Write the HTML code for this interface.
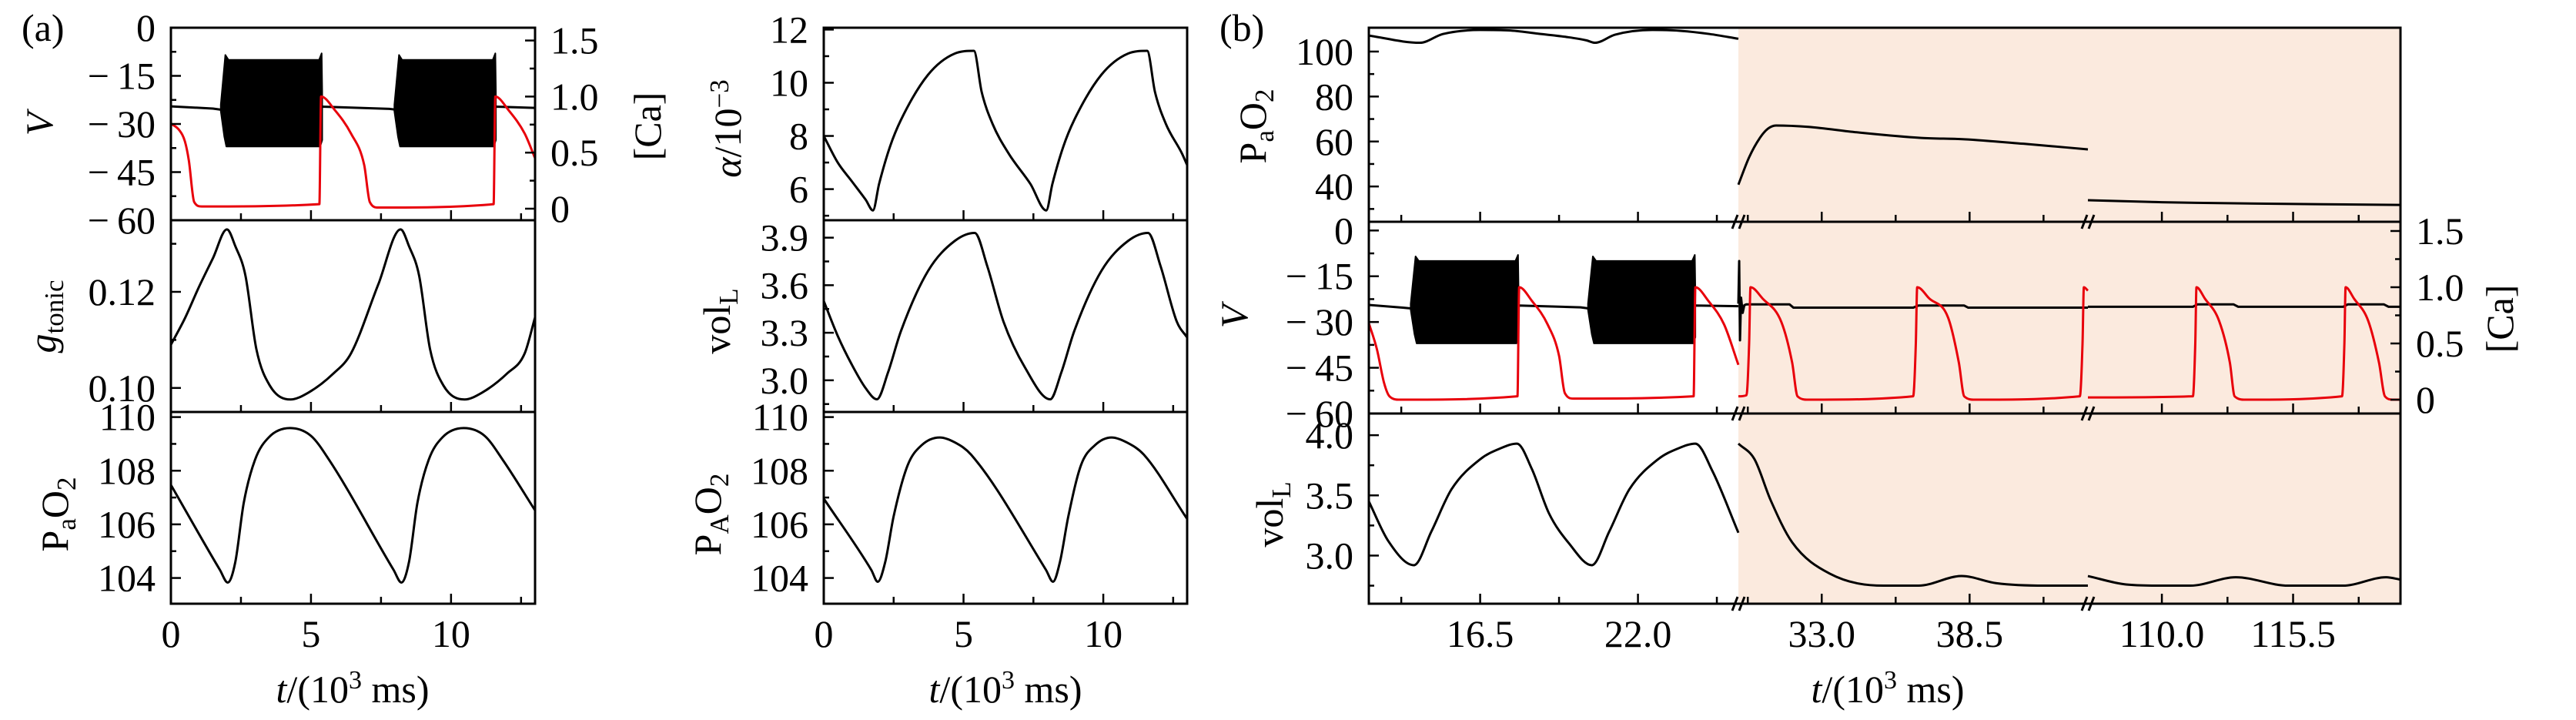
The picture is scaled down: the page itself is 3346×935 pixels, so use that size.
<!DOCTYPE html>
<html><head><meta charset="utf-8">
<style>
html,body{margin:0;padding:0;background:#fff;}
svg{display:block;font-family:"Liberation Serif","DejaVu Serif",serif;}
text{fill:#000;}
</style></head>
<body>
<svg id="chart" width="3346" height="935" viewBox="0 0 3346 935" xmlns="http://www.w3.org/2000/svg">
<rect x="0" y="0" width="3346" height="935" fill="#fff"/>
<rect x="2258" y="36" width="860" height="748" fill="#fbeade"/>
<g id="marks"></g>
<g id="axes"></g>
<g font-size="50">
<text x="28" y="53">(a)</text>
<text x="1584" y="53">(b)</text>
<text transform="translate(68,161) rotate(-90)" text-anchor="middle" font-style="italic">V</text>
<text transform="translate(72,411) rotate(-90)" text-anchor="middle"><tspan font-style="italic">g</tspan><tspan font-size="35" dy="10">tonic</tspan></text>
<text transform="translate(88,668) rotate(-90)" text-anchor="middle">P<tspan font-size="35" dy="10">a</tspan><tspan dy="-10">O</tspan><tspan font-size="35" dy="10">2</tspan></text>
<text transform="translate(858,164) rotate(-90)" text-anchor="middle">[Ca]</text>
<text transform="translate(962,167) rotate(-90)" text-anchor="middle"><tspan font-style="italic">α</tspan>/10<tspan font-size="35" dy="-16">−3</tspan></text>
<text transform="translate(948,417) rotate(-90)" text-anchor="middle">vol<tspan font-size="35" dy="10">L</tspan></text>
<text transform="translate(936,668) rotate(-90)" text-anchor="middle">P<tspan font-size="35" dy="10">A</tspan><tspan dy="-10">O</tspan><tspan font-size="35" dy="10">2</tspan></text>
<text transform="translate(1644,164) rotate(-90)" text-anchor="middle">P<tspan font-size="35" dy="10">a</tspan><tspan dy="-10">O</tspan><tspan font-size="35" dy="10">2</tspan></text>
<text transform="translate(1620,411) rotate(-90)" text-anchor="middle" font-style="italic">V</text>
<text transform="translate(1666,668) rotate(-90)" text-anchor="middle">vol<tspan font-size="35" dy="10">L</tspan></text>
<text transform="translate(3264,414) rotate(-90)" text-anchor="middle">[Ca]</text>
<text x="458" y="912" text-anchor="middle"><tspan font-style="italic">t</tspan>/(10<tspan font-size="34" dy="-18">3</tspan><tspan dy="18"> ms)</tspan></text>
<text x="1306" y="912" text-anchor="middle"><tspan font-style="italic">t</tspan>/(10<tspan font-size="34" dy="-18">3</tspan><tspan dy="18"> ms)</tspan></text>
<text x="2452" y="912" text-anchor="middle"><tspan font-style="italic">t</tspan>/(10<tspan font-size="34" dy="-18">3</tspan><tspan dy="18"> ms)</tspan></text>
</g>
</svg>
<script>
// ---------- Data: panel (a) ----------
const vBaseT=[0,1.5,1.75,5.4,7.8,8.0,11.6,13];
const vBaseV=[-24.5,-25.2,-25.5,-24.6,-25.3,-25.5,-24.6,-25];
const burstStartA=[1.8,8.0];
const burstEndA=[5.4,11.6];
const burstTop=-10;
const burstBottom=-37;
const caAT=[0,0.3,0.5,0.64,0.83,1.1,5.3,5.36,5.85,6.43,6.9,7.1,7.4,11.52,11.58,12.05,12.63,13];
const caAV=[0.76,0.7,0.6,0.43,0.06,0.02,0.04,1.0,0.88,0.67,0.39,0.06,0.01,0.04,1.0,0.88,0.67,0.45];
const gT=[0,0.5,1.0,1.5,2.0,2.3,2.66,3.05,3.53,4.27,4.9,5.8,6.43,7.4,8.2,8.5,8.86,9.25,9.73,10.48,11.1,12.0,12.63,13];
const gV=[0.109,0.1145,0.121,0.127,0.133,0.1295,0.1234,0.1081,0.1005,0.0976,0.099,0.103,0.1072,0.1215,0.133,0.1295,0.1234,0.1081,0.1005,0.0976,0.099,0.103,0.1072,0.1147];
const paT=[0,1.75,2.03,2.3,2.6,3.0,3.5,4.25,5.0,5.65,7.95,8.23,8.5,8.8,9.2,9.7,10.45,11.2,11.85,13];
const paV=[107.47,104.3,103.83,104.6,106.8,108.4,109.25,109.59,109.3,108.4,104.3,103.83,104.6,106.8,108.4,109.25,109.59,109.3,108.4,106.52];
const alphaT=[0,0.5,1.0,1.5,1.76,1.98,2.37,2.76,3.73,4.69,5.37,5.65,6.04,6.62,7.39,7.96,8.18,8.57,8.96,9.93,10.89,11.57,11.85,12.24,12.82,13];
const alphaV=[8.0,7.0,6.3,5.6,5.2,6.2,7.6,8.6,10.3,11.1,11.2,9.65,8.45,7.33,6.2,5.2,6.2,7.6,8.6,10.3,11.1,11.2,9.65,8.45,7.33,6.9];
const volT=[0,0.5,1.0,1.5,1.9,2.3,2.76,3.73,4.69,5.4,5.85,6.43,7.2,8.1,8.5,8.96,9.93,10.89,11.6,12.05,12.63,13];
const volV=[3.5,3.28,3.1,2.95,2.88,3.05,3.31,3.69,3.88,3.93,3.72,3.37,3.08,2.88,3.05,3.31,3.69,3.88,3.93,3.72,3.37,3.27];
const pAT=[0,1.7,1.93,2.2,2.5,3.0,3.5,4.15,4.7,5.27,7.95,8.2,8.45,8.75,9.2,9.7,10.3,10.85,11.45,13];
const pAV=[106.96,104.3,103.86,104.6,106.3,108.2,108.95,109.24,109.05,108.6,104.3,103.86,104.6,106.3,108.2,108.95,109.24,109.05,108.6,106.2];
// ---------- Data: panel (b) ----------
const bPaT1=[12.62,14.4,15.2,16.5,17.5,18.5,19.5,20.2,20.5,21.2,22.5,23.5,24.5,25.5];
const bPaV1=[107.1,103.9,107.8,109.6,109.4,108.0,106.5,105.0,103.9,107.5,109.6,109.2,107.8,105.7];
const bPaT2=[29.9,30.3,30.7,31.0,31.3,32.5,34.3,36.7,38.3,40.5,42.9];
const bPaV2=[40.8,53,61.6,65.7,67.1,66.5,64.1,61.6,61.0,59.0,56.5];
const bPaT3=[106.9,110,114,120];
const bPaV3=[33.9,33.0,32.4,31.8];
const bVT1=[12.62,13.8,14.05,17.85,20.0,20.25,24.0,25.5];
const bVV1=[-24.4,-25.3,-25.5,-24.6,-25.2,-25.5,-24.6,-24.8];
const burstStartB=[14.1,20.28];
const burstEndB=[17.84,24.0];
const bVT2=[29.9,29.93,29.96,30.0,30.06,30.12,30.2,31.8,31.95,36.4,36.6,38.3,38.45,42.9];
const bVV2=[-24,-10,-36,-22,-27,-24.5,-24.2,-24.2,-25.3,-25.3,-24.6,-24.6,-25.3,-25.3];
const bVT3=[106.9,111.3,111.5,113.0,113.2,117.6,117.8,119.3,119.5,120];
const bVV3=[-25.0,-25.0,-24.2,-24.2,-25.0,-25.0,-24.2,-24.2,-25.0,-25.0];
const bCaT1=[12.62,12.9,13.15,13.34,13.7,17.8,17.86,18.3,18.85,19.25,19.45,19.75,23.94,24.0,24.45,25.0,25.5];
const bCaV1=[0.68,0.45,0.15,0.03,0.0,0.03,1.0,0.88,0.67,0.39,0.06,0.01,0.03,1.0,0.88,0.67,0.31];
const bCaT2=[29.9,30.2,30.3,30.35,30.8,31.5,31.9,32.1,32.5,36.4,36.5,36.55,37.0,37.7,38.1,38.3,38.7,42.6,42.7,42.75,42.9];
const bCaV2=[0.03,0.04,0.5,1.0,0.9,0.69,0.33,0.03,0.0,0.03,0.5,1.0,0.9,0.73,0.33,0.03,0.0,0.03,0.5,1.0,0.97];
const bCaT3=[106.9,111.3,111.4,111.45,111.8,112.4,112.85,113.05,113.5,117.55,117.65,117.7,118.05,118.65,119.1,119.35,119.7,120];
const bCaV3=[0.02,0.03,0.5,1.0,0.9,0.7,0.33,0.03,0.0,0.03,0.5,1.0,0.9,0.7,0.33,0.03,0.0,0.0];
const bVolT1=[12.62,13.3,14.19,14.8,15.5,16.5,17.2,17.78,18.3,18.9,19.6,20.39,21.0,21.7,22.7,23.4,24.0,24.6,25.5];
const bVolV1=[3.45,3.12,2.92,3.2,3.55,3.8,3.89,3.93,3.72,3.35,3.1,2.92,3.2,3.55,3.8,3.89,3.93,3.7,3.19];
const bVolT2=[29.9,30.5,31.1,31.9,33.3,35.3,36.6,38.2,39.5,41.3,42.9];
const bVolV2=[3.93,3.8,3.46,3.11,2.85,2.75,2.75,2.83,2.77,2.75,2.75];
const bVolT3=[106.9,108.5,110.0,111.2,113.1,115.3,117.6,119.4,120];
const bVolV3=[2.83,2.76,2.75,2.75,2.82,2.75,2.75,2.82,2.8];
// tick labels
const xTicksA=[0,5,10];
const xTicksB1=[16.5,22.0];
const xTicksB2=[33.0,38.5];
const xTicksB3=[110.0,115.5];

const NS='http://www.w3.org/2000/svg';
const marks=document.getElementById('marks');
const axes=document.getElementById('axes');
const RED='#e8000b';
function el(tag,parent){const e=document.createElementNS(NS,tag);parent.appendChild(e);return e;}
function scale(d0,d1,r0,r1){return v=>r0+(v-d0)*(r1-r0)/(d1-d0);}
function monoPath(xs,ys){
  const n=xs.length;let p='M'+xs[0].toFixed(2)+','+ys[0].toFixed(2);
  if(n<3){for(let i=1;i<n;i++)p+='L'+xs[i].toFixed(2)+','+ys[i].toFixed(2);return p;}
  const d=[],m=[];
  for(let i=0;i<n-1;i++)d.push((ys[i+1]-ys[i])/(xs[i+1]-xs[i]));
  m[0]=d[0];m[n-1]=d[n-2];
  for(let i=1;i<n-1;i++)m[i]=(d[i-1]*d[i]<=0)?0:(d[i-1]+d[i])/2;
  for(let i=0;i<n-1;i++){
    if(d[i]===0){m[i]=0;m[i+1]=0;continue;}
    const a=m[i]/d[i],b=m[i+1]/d[i],s=a*a+b*b;
    if(s>9){const t=3/Math.sqrt(s);m[i]=t*a*d[i];m[i+1]=t*b*d[i];}
  }
  for(let i=0;i<n-1;i++){
    const h=xs[i+1]-xs[i];
    p+='C'+(xs[i]+h/3).toFixed(2)+','+(ys[i]+m[i]*h/3).toFixed(2)+' '+(xs[i+1]-h/3).toFixed(2)+','+(ys[i+1]-m[i+1]*h/3).toFixed(2)+' '+xs[i+1].toFixed(2)+','+ys[i+1].toFixed(2);
  }
  return p;
}
function linPath(xs,ys){let p='';for(let i=0;i<xs.length;i++)p+=(i?'L':'M')+xs[i].toFixed(2)+','+ys[i].toFixed(2);return p;}
function curve(T,V,sx,sy,color,name,linear){
  const xs=T.map(sx),ys=V.map(sy);
  const e=el('path',marks);
  e.setAttribute('d',linear?linPath(xs,ys):monoPath(xs,ys));
  e.setAttribute('fill','none');e.setAttribute('stroke',color);
  e.setAttribute('stroke-width','3');e.setAttribute('stroke-linejoin','round');
  
  
}
function bursts(S,E,sx,sy,name){
  for(let i=0;i<S.length;i++){
    const s=S[i],e=E[i],w=(e-s);
    const pts=[[s-0.02,-24],[s+0.04*w,burstTop+1.5],[s+0.07*w,burstTop],[e-0.03*w,burstTop],[e-0.005*w,burstTop+2],[e,-20],[e,burstBottom+2],[e-0.02*w,burstBottom],[s+0.05*w,burstBottom],[s+0.03*w,burstBottom+3],[s-0.02,-26]];
    const pg=el('polygon',marks);
    pg.setAttribute('points',pts.map(p=>sx(p[0]).toFixed(1)+','+sy(p[1]).toFixed(1)).join(' '));
    pg.setAttribute('fill','#000');pg.setAttribute('stroke','#000');pg.setAttribute('stroke-width','2');pg.setAttribute('stroke-linejoin','round');
    
    
  }
}
function line(x1,y1,x2,y2,w,name,parent){
  const e=el('line',parent||axes);
  e.setAttribute('x1',x1);e.setAttribute('y1',y1);e.setAttribute('x2',x2);e.setAttribute('y2',y2);
  e.setAttribute('stroke','#000');e.setAttribute('stroke-width',w);
  
  
}
function label(x,y,str,anchor,name){
  const t=el('text',axes);
  t.setAttribute('x',x);t.setAttribute('y',y);t.setAttribute('text-anchor',anchor);
  t.setAttribute('font-size','50');t.textContent=str;
  
  
}
function fmt(v,dec){const s=v.toFixed(dec);return s.replace('-','−\u2009');}
function frame(x0,x1,y0,y1,name){
  const r=el('rect',axes);
  r.setAttribute('x',x0);r.setAttribute('y',y0);r.setAttribute('width',x1-x0);r.setAttribute('height',y1-y0);
  r.setAttribute('fill','none');r.setAttribute('stroke','#000');r.setAttribute('stroke-width','3');
  
  
}
function yTicks(x,sy,y0,y1,majors,minStep,dec,side,name,labels){
  const dir=side==='left'?1:-1;
  majors.forEach(v=>{const y=sy(v);line(x,y,x+dir*13,y,2.5,name+'-major-tick');
    if(labels){ if(side==='left')label(x-20,y+17,fmt(v,dec),'end',name+'-tick-label'); else label(x+20,y+17,fmt(v,dec),'start',name+'-tick-label');}});
  const lo=majors[0]-minStep*20,hi=majors[majors.length-1]+minStep*20;
  for(let v=lo;v<=hi+1e-9;v+=minStep){
    const y=sy(v);if(y<y0+3||y>y1-3)continue;
    if(majors.some(m=>Math.abs(m-v)<minStep*0.1))continue;
    line(x,y,x+dir*7,y,2.5,name+'-minor-tick');
  }
}
function xTicks(sx,xa,xb,y,majors,minStep,name){
  const lo=majors[0]-minStep*10,hi=majors[majors.length-1]+minStep*10;
  for(let v=lo;v<=hi+1e-9;v+=minStep){
    const x=sx(v);if(x<xa+4||x>xb-4)continue;
    const isMaj=majors.some(m=>Math.abs(m-v)<minStep*0.1);
    line(x,y,x,y-(isMaj?13:9),2.5,name+(isMaj?'-major-tick':'-minor-tick'));
  }
}

// ---------- Panel (a) layout ----------
const AX0=222,AX1=695,BX0=1070,BX1=1542;
const R=[[36,286],[286,535],[535,784]];
const RB=[[36,288],[288,537],[537,784]];
const sxA=scale(0,13,AX0,AX1), sxA2=scale(0,13,BX0,BX1);

const syV=scale(-60,0,R[0][1],R[0][0]);
const syCa=scale(-0.103,1.614,R[0][1],R[0][0]);
curve(vBaseT,vBaseV,sxA,syV,'#000','v-trace-a',true);
bursts(burstStartA,burstEndA,sxA,syV,'v-burst-a');
curve(caAT,caAV,sxA,syCa,RED,'ca-trace-a');
const syG=scale(0.0950,0.1349,R[1][1],R[1][0]);
curve(gT,gV,sxA,syG,'#000','gtonic-trace');
const syPa=scale(103.04,110.19,R[2][1],R[2][0]);
curve(paT,paV,sxA,syPa,'#000','pao2-trace-a');

const syAl=scale(4.83,12.07,R[0][1],R[0][0]);
curve(alphaT,alphaV,sxA2,syAl,'#000','alpha-trace');
const syVol=scale(2.80,4.01,R[1][1],R[1][0]);
curve(volT,volV,sxA2,syVol,'#000','voll-trace-a');
curve(pAT,pAV,sxA2,syPa,'#000','pao2-alveolar-trace');

[[AX0,AX1],[BX0,BX1]].forEach((xx,pi)=>{
  R.forEach((r,ri)=>{frame(xx[0],xx[1],r[0],r[1],'frame-a'+(pi+1)+'-row'+(ri+1));
    xTicks(pi?sxA2:sxA,xx[0],xx[1],r[1],xTicksA,2.5,'x-axis-a'+(pi+1));});
  xTicksA.forEach(v=>label((pi?sxA2:sxA)(v),840,String(v),'middle','x-tick-label-a'+(pi+1)));
});
yTicks(AX0,syV,R[0][0],R[0][1],[-60,-45,-30,-15,0],7.5,0,'left','y-axis-v-a',true);
yTicks(AX1,syCa,R[0][0],R[0][1],[0,0.5,1.0,1.5],0.25,1,'right','y-axis-ca-a',false);
[0,0.5,1.0,1.5].forEach(v=>label(AX1+20,syCa(v)+17,v===0?'0':v.toFixed(1),'start','y-axis-ca-a-tick-label'));
yTicks(AX0,syG,R[1][0],R[1][1],[0.10,0.12],0.01,2,'left','y-axis-gtonic',true);
yTicks(AX0,syPa,R[2][0],R[2][1],[104,106,108,110],1,0,'left','y-axis-pao2-a',true);
yTicks(BX0,syAl,R[0][0],R[0][1],[6,8,10,12],1,0,'left','y-axis-alpha',true);
yTicks(BX0,syVol,R[1][0],R[1][1],[3.0,3.3,3.6,3.9],0.15,1,'left','y-axis-voll-a',true);
yTicks(BX0,syPa,R[2][0],R[2][1],[104,106,108,110],1,0,'left','y-axis-pao2-alveolar',true);

// ---------- Panel (b) ----------
const CX0=1778,CB1=2258,CB2=2712,CX1=3118;
const sxB1=scale(12.62,25.5,CX0,CB1), sxB2=scale(29.9,42.9,CB1,CB2), sxB3=scale(106.9,120,CB2,CX1);
const syBPa=scale(24.3,110.6,RB[0][1],RB[0][0]);
curve(bPaT1,bPaV1,sxB1,syBPa,'#000','pao2-trace-b-seg1');
curve(bPaT2,bPaV2,sxB2,syBPa,'#000','pao2-trace-b-seg2');
curve(bPaT3,bPaV3,sxB3,syBPa,'#000','pao2-trace-b-seg3');
const syBV=scale(-60,2.86,RB[1][1],RB[1][0]);
const syBCa=scale(-0.123,1.582,RB[1][1],RB[1][0]);
curve(bVT1,bVV1,sxB1,syBV,'#000','v-trace-b-seg1',true);
bursts(burstStartB,burstEndB,sxB1,syBV,'v-burst-b');
curve(bVT2,bVV2,sxB2,syBV,'#000','v-trace-b-seg2',true);
curve(bVT3,bVV3,sxB3,syBV,'#000','v-trace-b-seg3',true);
curve(bCaT1,bCaV1,sxB1,syBCa,RED,'ca-trace-b-seg1');
curve(bCaT2,bCaV2,sxB2,syBCa,RED,'ca-trace-b-seg2');
curve(bCaT3,bCaV3,sxB3,syBCa,RED,'ca-trace-b-seg3');
const syBVol=scale(2.6,4.18,RB[2][1],RB[2][0]);
curve(bVolT1,bVolV1,sxB1,syBVol,'#000','voll-trace-b-seg1');
curve(bVolT2,bVolV2,sxB2,syBVol,'#000','voll-trace-b-seg2');
curve(bVolT3,bVolV3,sxB3,syBVol,'#000','voll-trace-b-seg3');

RB.forEach((r,ri)=>{
  frame(CX0,CX1,r[0],r[1],'frame-b-row'+(ri+1));
  xTicks(sxB1,CX0,CB1-6,r[1],xTicksB1,2.75,'x-axis-b-seg1');
  xTicks(sxB2,CB1+8,CB2-6,r[1],xTicksB2,2.75,'x-axis-b-seg2');
  xTicks(sxB3,CB2+8,CX1,r[1],xTicksB3,2.75,'x-axis-b-seg3');
  [CB1,CB2].forEach(bx=>{
    line(bx-8,r[1]+9,bx-1,r[1]-9,3,'axis-break-mark');
    line(bx+1,r[1]+9,bx+8,r[1]-9,3,'axis-break-mark');
  });
});
xTicksB1.forEach(v=>label(sxB1(v),840,v.toFixed(1),'middle','x-tick-label-b'));
xTicksB2.forEach(v=>label(sxB2(v),840,v.toFixed(1),'middle','x-tick-label-b'));
xTicksB3.forEach(v=>label(sxB3(v),840,v.toFixed(1),'middle','x-tick-label-b'));
yTicks(CX0,syBPa,RB[0][0],RB[0][1],[40,60,80,100],10,0,'left','y-axis-pao2-b',true);
yTicks(CX0,syBV,RB[1][0],RB[1][1],[-60,-45,-30,-15,0],7.5,0,'left','y-axis-v-b',true);
yTicks(CX1,syBCa,RB[1][0],RB[1][1],[0,0.5,1.0,1.5],0.25,1,'right','y-axis-ca-b',false);
[0,0.5,1.0,1.5].forEach(v=>label(CX1+20,syBCa(v)+17,v===0?'0':v.toFixed(1),'start','y-axis-ca-b-tick-label'));
yTicks(CX0,syBVol,RB[2][0],RB[2][1],[3.0,3.5,4.0],0.25,1,'left','y-axis-voll-b',true);
</script>
</body></html>
